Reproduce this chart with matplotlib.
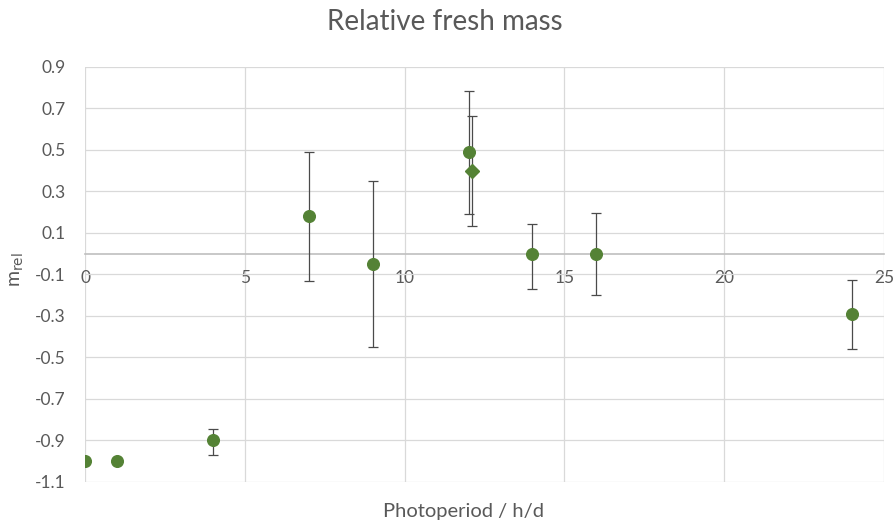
import matplotlib
matplotlib.use("Agg")
import matplotlib.pyplot as plt
import numpy as np

plt.rcParams['font.family'] = ['Lato', 'DejaVu Sans']

# Data (series 1: circles)
x1 = [0, 1, 4, 7, 9, 12, 14, 16, 24]
y1 = [-1.0, -1.0, -0.90, 0.18, -0.05, 0.49, 0.00, 0.00, -0.29]
err1_low = [0.0, 0.0, 0.07, 0.31, 0.40, 0.30, 0.17, 0.20, 0.17]
err1_high = [0.0, 0.0, 0.055, 0.31, 0.40, 0.295, 0.145, 0.195, 0.165]

# series 2: diamond
x2 = [12.1]
y2 = [0.40]
err2_low = [0.265]
err2_high = [0.265]

xticks = [0, 5, 10, 15, 20, 25]
yticks = [-1.1, -0.9, -0.7, -0.5, -0.3, -0.1, 0.1, 0.3, 0.5, 0.7, 0.9]

green = '#548235'
txt = '#595959'
grid = '#d9d9d9'
errc = '#4a4a4a'

fig = plt.figure(figsize=(8.96, 5.26), dpi=100)
ax = fig.add_axes([85/896, 1 - 482/526, (884-85)/896, (482-67)/526])

ax.set_xlim(0, 25)
ax.set_ylim(-1.1, 0.9)
ax.set_xticks(xticks)
ax.set_yticks(yticks)
ax.set_yticklabels([f'{v:.1f}' for v in yticks])
ax.grid(True, color=grid, linewidth=0.9, zorder=0)
ax.set_axisbelow(True)

for s in ['top', 'right', 'left']:
    ax.spines[s].set_visible(False)
ax.spines['bottom'].set_position(('data', 0))
ax.spines['bottom'].set_color('#bfbfbf')
ax.spines['bottom'].set_linewidth(1.2)
ax.spines['bottom'].set_zorder(1)

ax.tick_params(axis='both', length=0, colors=txt, labelsize=12.5)
ax.tick_params(axis='y', pad=14)
ax.tick_params(axis='x', pad=12)

ax.errorbar(x1, y1, yerr=[err1_low, err1_high], fmt='o', color=green,
            markersize=8.4, ecolor=errc, elinewidth=0.9, capsize=3.6,
            capthick=0.9, zorder=3)
ax.errorbar(x2, y2, yerr=[err2_low, err2_high], fmt='D', color=green,
            markersize=7.2, ecolor=errc, elinewidth=0.9, capsize=3.6,
            capthick=0.9, zorder=3)

fig.text(445/896, 1 - 22/526, 'Relative fresh mass', ha='center', va='center',
         fontsize=20, color=txt)
fig.text(463/896, 1 - 512/526, 'Photoperiod / h/d', ha='center', va='center',
         fontsize=14.5, color=txt)
fig.text(17/896, 1 - 270/526, r'm$_{\mathrm{rel}}$', ha='center', va='center',
         fontsize=14, color=txt, rotation=90)

fig.savefig('out.png', dpi=100)
